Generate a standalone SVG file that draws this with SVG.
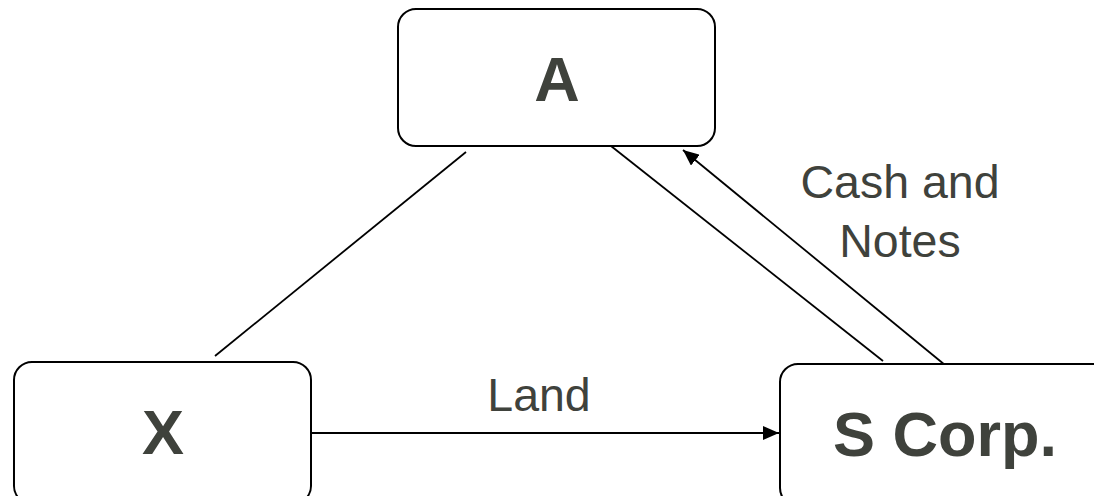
<svg xmlns="http://www.w3.org/2000/svg" width="1094" height="496" viewBox="0 0 1094 496">
<defs>
<style>
.box{fill:#fff;stroke:#000;stroke-width:2}
.lbl{font-family:"Liberation Sans",Arial,sans-serif;font-weight:bold;font-size:63px;fill:#3f423c;text-anchor:middle}
.edge{font-family:"Liberation Sans",Arial,sans-serif;font-size:46.5px;fill:#3f423c;text-anchor:middle}
.ln{stroke:#000;stroke-width:1.8;fill:none}
</style>
<marker id="ah2" markerWidth="16" markerHeight="14" refX="16" refY="7" orient="auto" markerUnits="userSpaceOnUse">
<path d="M0,0 L16,7 L0,14 z" fill="#000"/>
</marker>
</defs>
<rect width="1094" height="496" fill="#fff"/>
<g id="connectors">
<line class="ln" x1="466" y1="152" x2="215" y2="356"/>
<line class="ln" x1="611" y1="146" x2="883" y2="361"/>
<line class="ln" x1="945" y1="365" x2="683" y2="150" marker-end="url(#ah2)"/>
<line class="ln" x1="311" y1="433" x2="779" y2="433" marker-end="url(#ah2)"/>
<text class="edge" x="900" y="198">Cash and</text>
<text class="edge" x="900" y="257">Notes</text>
<text class="edge" x="539" y="411">Land</text>
</g>
<g id="node-A">
<rect class="box" x="398" y="9" width="317" height="137" rx="18"/>
<text class="lbl" x="557" y="101">A</text>
</g>
<g id="node-X">
<rect class="box" x="14" y="362" width="297" height="142" rx="18"/>
<text class="lbl" x="163" y="454">X</text>
</g>
<g id="node-S">
<rect class="box" x="780" y="364" width="340" height="142" rx="18"/>
<text class="lbl" x="945" y="456">S Corp.</text>
</g>
</svg>
